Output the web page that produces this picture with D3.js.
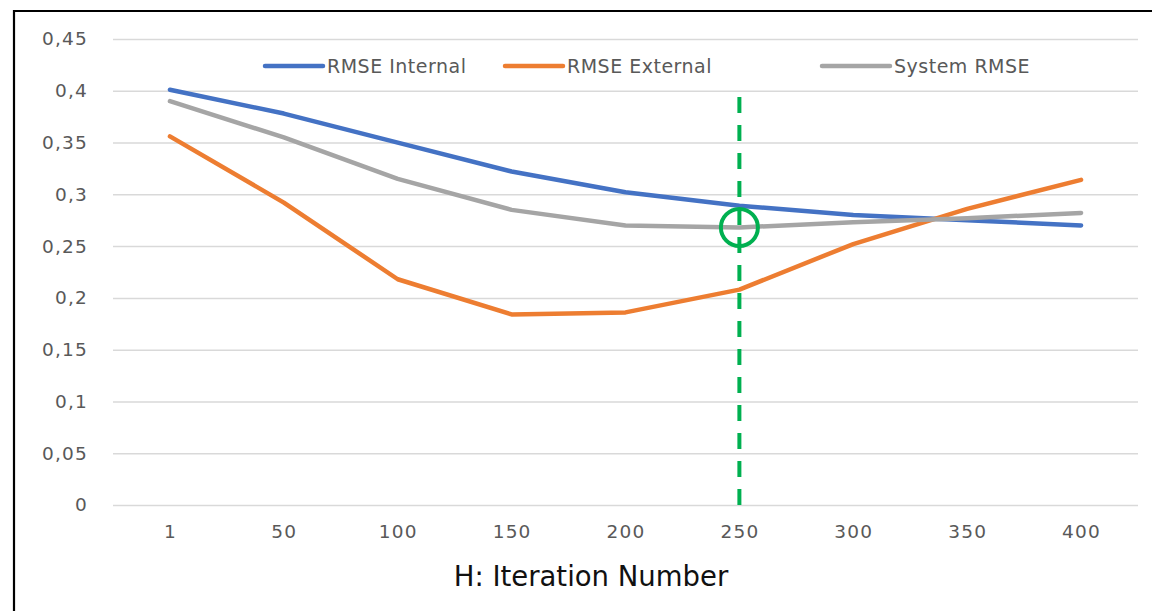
<!DOCTYPE html>
<html>
<head>
<meta charset="utf-8">
<script src="https://cdn.jsdelivr.net/npm/d3@7"></script>
<style>
  html, body { margin: 0; padding: 0; background: #fff; }
  svg { display: block; }
</style>
</head>
<body>
<svg id="chart" width="1153" height="611"></svg>
<script>
// Iteration counts on the x axis
const iterations = ["1", "50", "100", "150", "200", "250", "300", "350", "400"];
// RMSE series per iteration count
const rmseInternal = [0.401, 0.378, 0.350, 0.322, 0.302, 0.289, 0.280, 0.275, 0.270];
const rmseExternal = [0.356, 0.292, 0.218, 0.184, 0.186, 0.208, 0.252, 0.286, 0.314];
const systemRmse   = [0.390, 0.355, 0.315, 0.285, 0.270, 0.268, 0.273, 0.277, 0.282];
// Y axis ticks
const yTicks = [0, 0.05, 0.1, 0.15, 0.2, 0.25, 0.3, 0.35, 0.4, 0.45];
// Selected iteration count and its system RMSE
const chosenIteration = "250";

const series = [
  { name: "RMSE Internal", values: rmseInternal, color: "#4472C4" },
  { name: "RMSE External", values: rmseExternal, color: "#ED7D31" },
  { name: "System RMSE",   values: systemRmse,   color: "#A5A5A5" }
];

const svg = d3.select("#chart");
const W = 1153, H = 611;
const margin = { left: 113, right: 15, top: 39, bottom: 106 };

const x = d3.scalePoint().domain(iterations).range([margin.left, W - margin.right]).padding(0.5);
const y = d3.scaleLinear().domain([0, 0.45]).range([H - margin.bottom, margin.top]);

const font = "'DejaVu Sans', 'Open Sans', sans-serif";
const fmt = v => d3.format(".2~f")(v).replace(".", ",");

// frame lines
svg.append("line").attr("x1", 14).attr("x2", 14).attr("y1", 10).attr("y2", H)
  .attr("stroke", "#000").attr("stroke-width", 2.2);
svg.append("line").attr("x1", 13).attr("x2", 1152).attr("y1", 11).attr("y2", 11)
  .attr("stroke", "#000").attr("stroke-width", 2.2);

// horizontal gridlines + y labels
const yAxis = d3.axisLeft(y).tickValues(yTicks).tickFormat(fmt)
  .tickSize(-(W - margin.right - margin.left)).tickPadding(25);
const gy = svg.append("g").attr("transform", `translate(${margin.left},0)`).call(yAxis);
gy.select(".domain").remove();
gy.selectAll(".tick line").attr("stroke", "#D9D9D9").attr("stroke-width", 1.5);
gy.selectAll(".tick text").attr("fill", "#595959").style("font-family", font)
  .style("font-size", "18.5px").style("letter-spacing", "1.2px");

// x axis labels
const xAxis = d3.axisBottom(x).tickSize(0).tickPadding(20);
const gx = svg.append("g").attr("transform", `translate(0,${y(0)})`).call(xAxis);
gx.select(".domain").remove();
gx.selectAll(".tick text").attr("fill", "#595959").style("font-family", font)
  .style("font-size", "18.5px").style("letter-spacing", "1.2px");

// axis title
svg.append("text").attr("x", 591).attr("y", 586).attr("text-anchor", "middle")
  .style("font-family", font).style("font-size", "27.5px").attr("fill", "#111")
  .text("H: Iteration Number");

// series lines
const line = d3.line().x((d, i) => x(iterations[i])).y(d => y(d));
svg.append("g").selectAll("path").data(series).join("path")
  .attr("d", d => line(d.values))
  .attr("fill", "none").attr("stroke", d => d.color)
  .attr("stroke-width", 4.5).attr("stroke-linecap", "round").attr("stroke-linejoin", "round");

// marker for the selected iteration
const cx = x(chosenIteration);
const cy = y(systemRmse[iterations.indexOf(chosenIteration)]);
svg.append("line").attr("x1", cx).attr("x2", cx).attr("y1", 97).attr("y2", y(0))
  .attr("stroke", "#00B050").attr("stroke-width", 4).attr("stroke-dasharray", "16 12");
svg.append("circle").attr("cx", cx).attr("cy", cy).attr("r", 18.5)
  .attr("fill", "none").attr("stroke", "#00B050").attr("stroke-width", 4);

// legend
const legendX = [265, 505, 822];
const legendLen = [58, 58, 68];
const lg = svg.append("g").selectAll("g").data(series).join("g")
  .attr("transform", (d, i) => `translate(${legendX[i]},66)`);
lg.append("line").attr("x1", 0).attr("x2", (d, i) => legendLen[i]).attr("y1", 0).attr("y2", 0)
  .attr("stroke", d => d.color).attr("stroke-width", 4.5).attr("stroke-linecap", "round");
lg.append("text").attr("x", (d, i) => legendLen[i] + 4).attr("dy", "0.35em")
  .attr("fill", "#595959").style("font-family", font).style("font-size", "19px")
  .style("letter-spacing", "0.5px")
  .text(d => d.name);
</script>
</body>
</html>
